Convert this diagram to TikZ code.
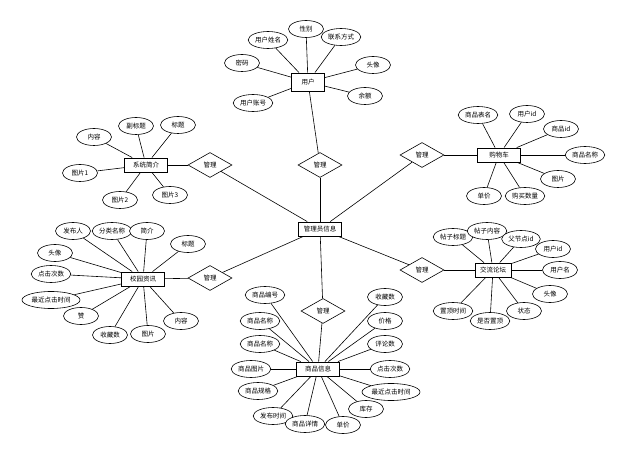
\documentclass[tikz,border=0pt]{standalone}
\usepackage{fontspec}
\setmainfont{Noto Sans CJK SC}
\usetikzlibrary{shapes.geometric}
\tikzset{
  attr/.style={ellipse, draw, line width=0.6pt, fill=white, inner sep=1pt, minimum width=35, minimum height=17, font=\fontsize{6.5}{7}\selectfont},
  entity/.style={rectangle, draw, line width=0.9pt, fill=white, inner sep=1pt, minimum width=43, minimum height=14, font=\fontsize{6.5}{7}\selectfont},
  rel/.style={diamond, draw, line width=0.6pt, fill=white, inner sep=0pt, aspect=1.76, minimum width=44, minimum height=25, font=\fontsize{6.5}{7}\selectfont},
  link/.style={line width=0.6pt}
}
\begin{document}
\begin{tikzpicture}[x=1pt, y=-1pt]
			\useasboundingbox[fill=white] (0,0) rectangle (638,457);

			% Entities
			\node[entity, minimum width=33, minimum height=18] (user) at (308,82) {用户};
			\node[entity] (admin) at (320,229) {管理员信息};
			\node[entity] (intro) at (146,165) {系统简介};
			\node[entity] (news) at (143,279) {校园资讯};
			\node[entity] (cart) at (499,155) {购物车};
			\node[entity, minimum width=36] (forum) at (493,270) {交流论坛};
			\node[entity] (goods) at (318,369) {商品信息};

			% Relations
			\node[rel] (rtop) at (320,165) {管理};
			\node[rel] (rlu) at (210,165) {管理};
			\node[rel] (rll) at (210,278) {管理};
			\node[rel] (rru) at (422,155) {管理};
			\node[rel] (rrl) at (422,270) {管理};
			\node[rel] (rbot) at (323,311) {管理};

			% Attributes of user
			\node[attr] (u1) at (268,40) {用户姓名};
			\node[attr] (u2) at (306,29) {性别};
			\node[attr] (u3) at (341,37) {联系方式};
			\node[attr] (u4) at (242,63) {密码};
			\node[attr] (u5) at (373,65) {头像};
			\node[attr] (u6) at (365,96) {余额};
			\node[attr] (u7) at (253,103) {用户账号};

			% Attributes of intro
			\node[attr] (i1) at (94,137) {内容};
			\node[attr] (i2) at (136,126) {副标题};
			\node[attr] (i3) at (178,125) {标题};
			\node[attr] (i4) at (80,173) {图片1};
			\node[attr] (i5) at (120,200) {图片2};
			\node[attr] (i6) at (170,195) {图片3};

			% Attributes of cart
			\node[attr] (c1) at (478,115) {商品表名};
			\node[attr] (c2) at (527,114) {用户id};
			\node[attr] (c3) at (561,129) {商品id};
			\node[attr] (c4) at (585,155) {商品名称};
			\node[attr] (c5) at (558,179) {图片};
			\node[attr] (c6) at (484,196) {单价};
			\node[attr] (c7) at (525,196) {购买数量};

			% Attributes of news
			\node[attr] (n1) at (73,231) {发布人};
			\node[attr] (n2) at (112,231) {分类名称};
			\node[attr] (n3) at (147,231) {简介};
			\node[attr] (n4) at (188,244) {标题};
			\node[attr] (n5) at (55,253) {头像};
			\node[attr] (n6) at (51,274) {点击次数};
			\node[attr] (n7) at (51,300) {最近点击时间};
			\node[attr] (n8) at (81,316) {赞};
			\node[attr] (n9) at (110,335) {收藏数};
			\node[attr] (n10) at (148,334) {图片};
			\node[attr] (n11) at (181,321) {内容};

			% Attributes of forum
			\node[attr] (f1) at (453,237) {帖子标题};
			\node[attr] (f2) at (487,231) {帖子内容};
			\node[attr] (f3) at (521,239) {父节点id};
			\node[attr] (f4) at (553,249) {用户id};
			\node[attr] (f5) at (560,270) {用户名};
			\node[attr] (f6) at (550,294) {头像};
			\node[attr] (f7) at (524,311) {状态};
			\node[attr] (f8) at (490,321) {是否置顶};
			\node[attr] (f9) at (453,311) {置顶时间};

			% Attributes of goods
			\node[attr] (g1) at (265,295) {商品编号};
			\node[attr] (g2) at (260,321) {商品名称};
			\node[attr] (g3) at (260,344) {商品名称};
			\node[attr] (g4) at (251,369) {商品图片};
			\node[attr] (g5) at (258,391) {商品规格};
			\node[attr] (g6) at (273,416) {发布时间};
			\node[attr] (g7) at (305,424) {商品详情};
			\node[attr] (g8) at (343,425) {单价};
			\node[attr] (g9) at (366,409) {库存};
			\node[attr] (g10) at (391,392) {最近点击时间};
			\node[attr] (g11) at (390,369) {点击次数};
			\node[attr] (g12) at (385,344) {评论数};
			\node[attr] (g13) at (385,321) {价格};
			\node[attr] (g14) at (385,297) {收藏数};

			% Edges
			\foreach \a in {u1,u2,u3,u4,u5,u6,u7} \draw[link] (user) -- (\a);
			\foreach \a in {i1,i2,i3,i4,i5,i6} \draw[link] (intro) -- (\a);
			\foreach \a in {c1,c2,c3,c4,c5,c6,c7} \draw[link] (cart) -- (\a);
			\foreach \a in {n1,n2,n3,n4,n5,n6,n7,n8,n9,n10,n11} \draw[link] (news) -- (\a);
			\foreach \a in {f1,f2,f3,f4,f5,f6,f7,f8,f9} \draw[link] (forum) -- (\a);
			\foreach \a in {g1,g2,g3,g4,g5,g6,g7,g8,g9,g10,g11,g12,g13,g14} \draw[link] (goods) -- (\a);
			\draw[link] (user) -- (rtop);
			\draw[link, line width=1pt] (rtop) -- (admin);
			\draw[link] (intro) -- (rlu);
			\draw[link] (rlu) -- (admin);
			\draw[link] (news) -- (rll);
			\draw[link] (rll) -- (admin);
			\draw[link] (cart) -- (rru);
			\draw[link] (rru) -- (admin);
			\draw[link] (forum) -- (rrl);
			\draw[link] (rrl) -- (admin);
			\draw[link] (admin) -- (rbot);
			\draw[link] (rbot) -- (goods);
\end{tikzpicture}
\end{document}
